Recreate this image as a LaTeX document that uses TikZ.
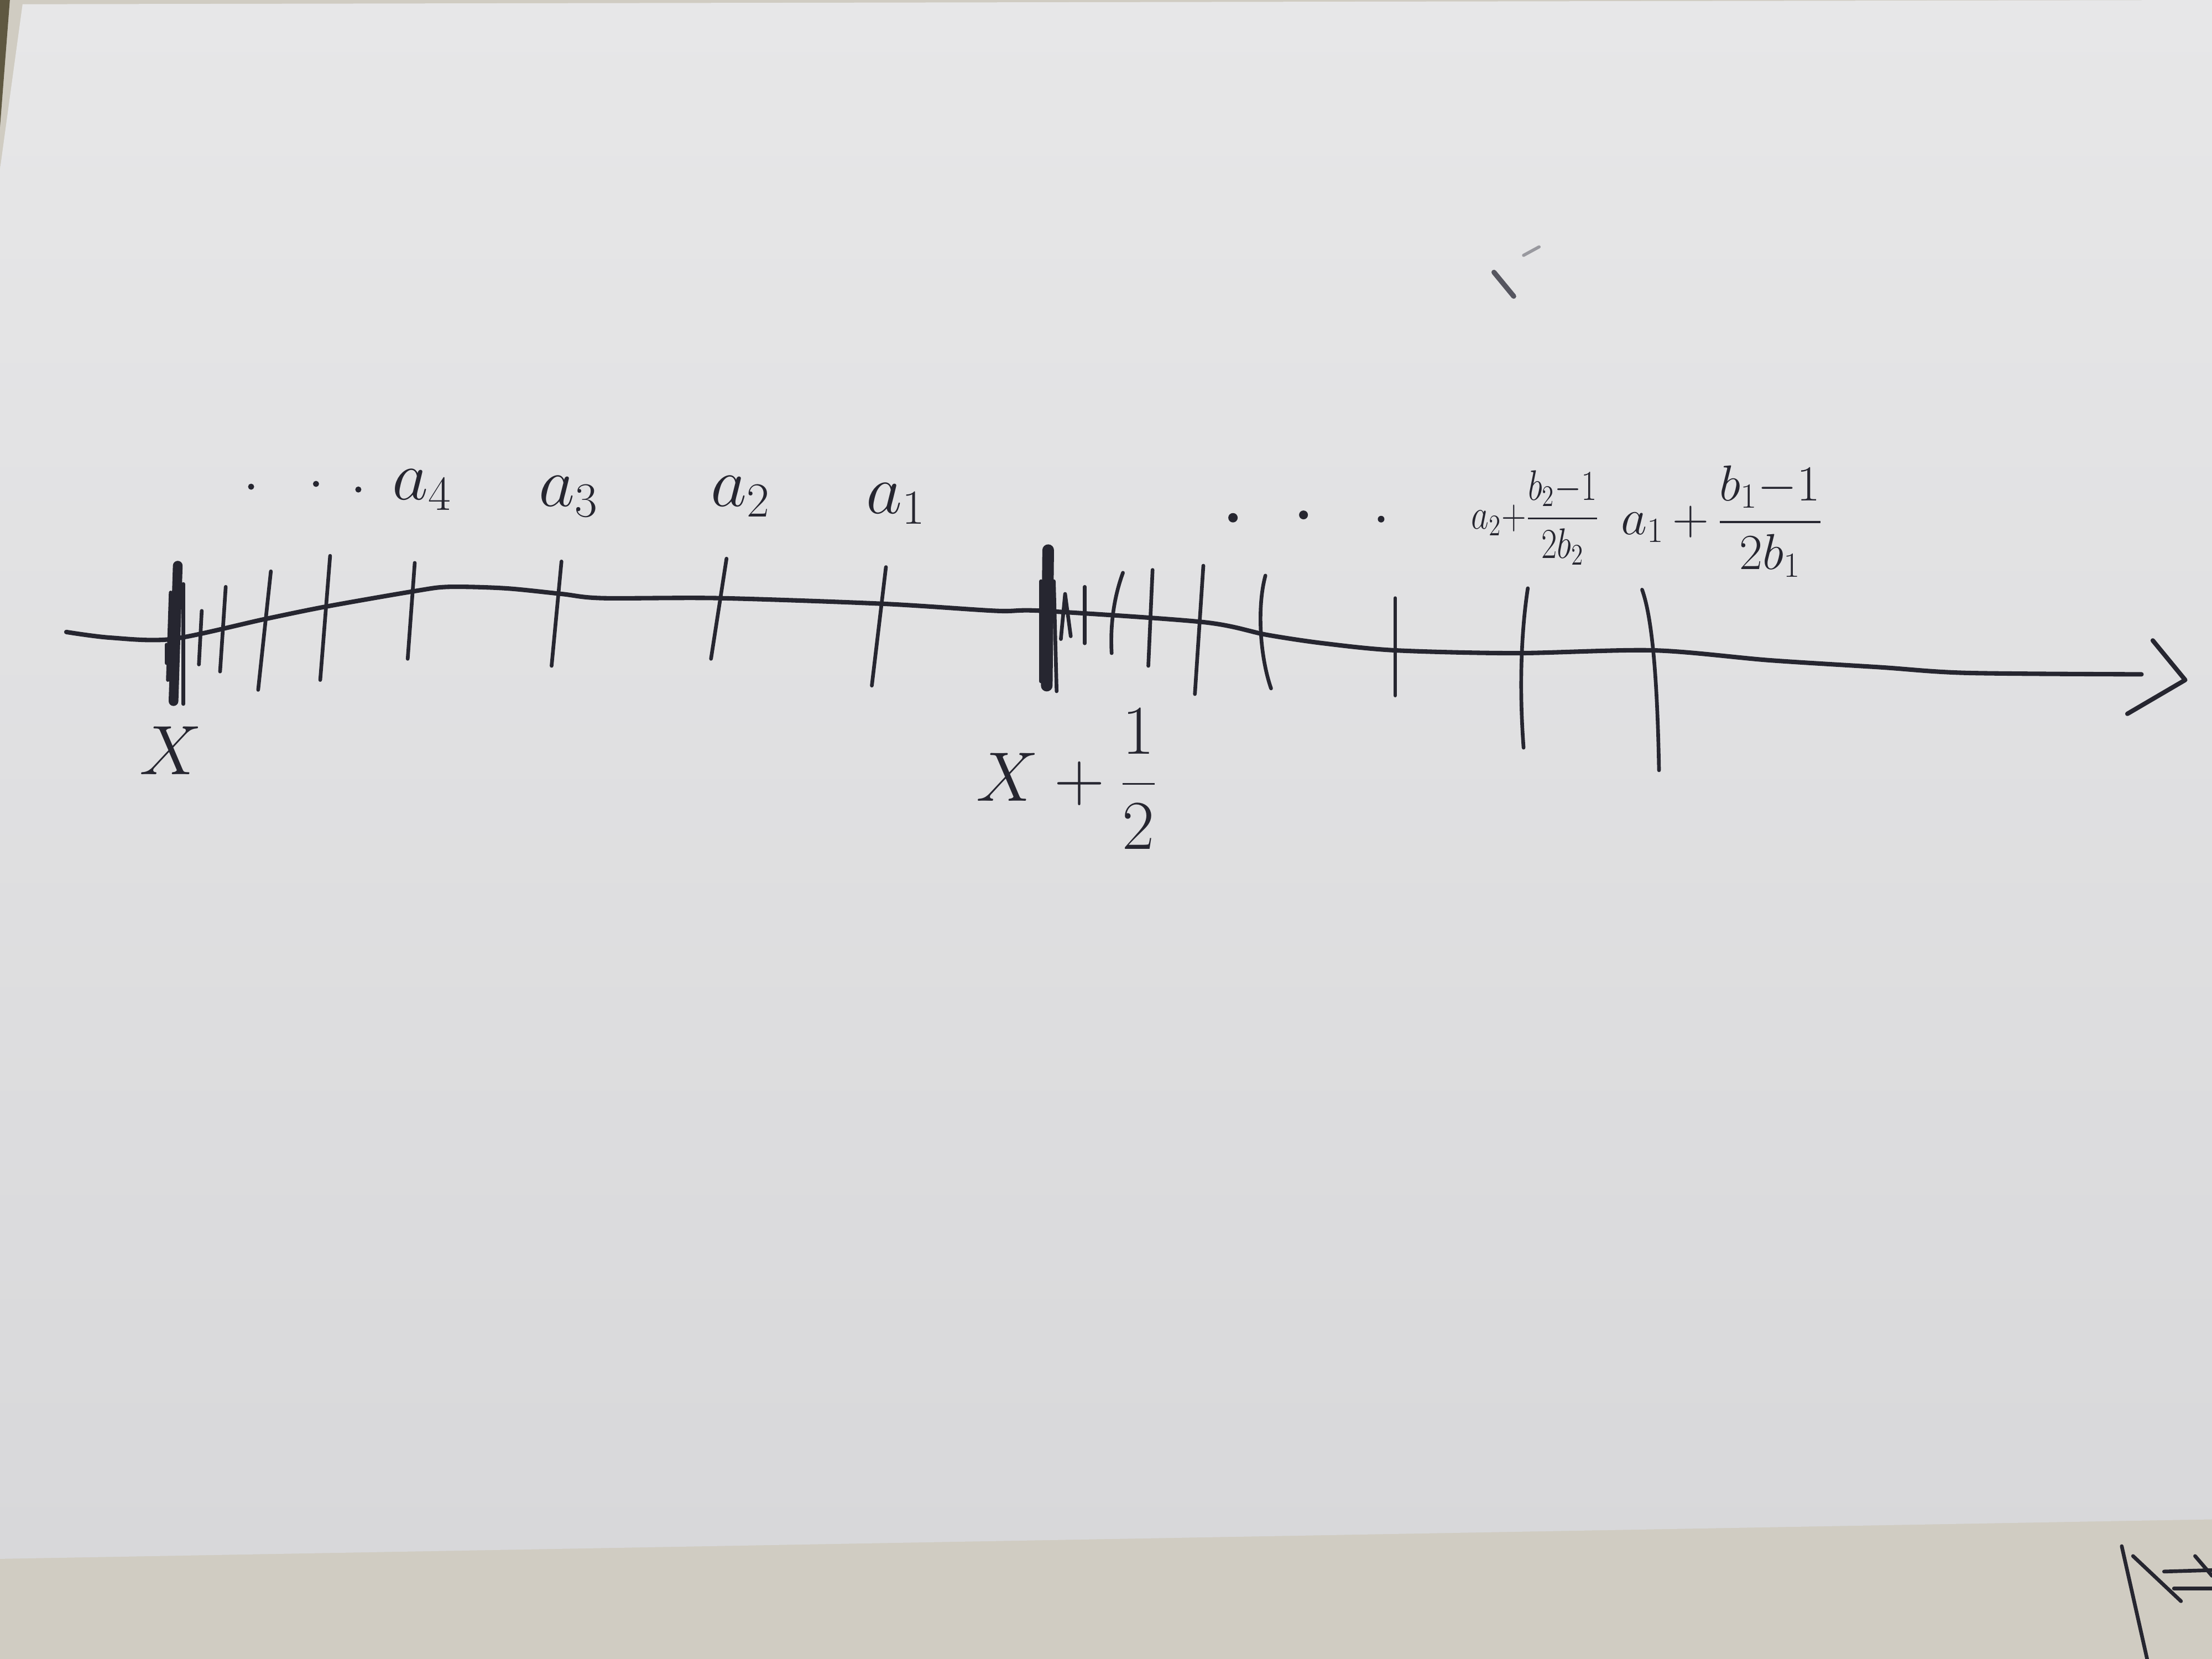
\RequirePackage{fix-cm}
\documentclass[tikz,border=0pt]{standalone}
\usepackage{amsmath}
\usepackage{graphicx}
\definecolor{ink}{RGB}{38,38,48}
\definecolor{paperTop}{RGB}{231,231,232}
\definecolor{paperBot}{RGB}{216,216,218}
\definecolor{under}{RGB}{208,204,194}
\definecolor{edge}{RGB}{95,88,65}
\definecolor{dirt}{RGB}{85,85,95}
\begin{document}
\begin{tikzpicture}[x=0.2551mm,y=-0.2551mm,
  pen/.style={draw=ink,line width=1.9pt,line cap=round,line join=round},
  axisline/.style={pen,line width=2.3pt},
  lbl/.style={text=ink,inner sep=0pt,outer sep=0pt},
  big/.style={lbl,font=\fontsize{36}{40}\selectfont},
  dot/.style={fill=ink}]
\useasboundingbox (0,0) rectangle (1568,1176);
% paper and background
\fill[under] (0,0) rectangle (1568,1176);
\shade[top color=paperTop,bottom color=paperBot] (16,3) -- (1568,0) -- (1568,1077) -- (0,1105) -- (0,120) -- cycle;
\fill[edge] (0,0) -- (7,0) -- (0,90) -- cycle;
% dirt marks
\draw[dirt,line width=2.6pt,line cap=round] (1059,193) -- (1073,210);
\draw[dirt!60,line width=1.6pt,line cap=round] (1080,181) -- (1091,175);
% axis
\draw[axisline] plot[smooth] coordinates {(47,448) (78,452) (122,453) (187,439) (231,430) (294,419) (318,416) (358,417) (398,421) (427,424) (510,424) (626,428) (706,433) (739,433) (853,441) (898,450) (938,456) (989,461) (1074,463) (1172,461) (1254,468) (1333,473) (1394,477) (1518,478)};
\coordinate (tipU) at (1526,454);
\coordinate (tip) at (1549,482);
\coordinate (tipL) at (1508,506);
\draw[axisline] (tipU) -- (tip) -- (tipL);
% cluster at X
\draw[pen,line width=5pt] (126,401) -- (123,497);
\draw[pen] (130,414) -- (130,499);
\draw[pen] (121,420) -- (119,482);
\draw[pen] (118,457) -- (118,470);
% ticks towards X
\draw[pen] (143,433) -- (141,471);
\draw[pen] (160,416) -- (156,476);
\draw[pen] (192,405) -- (183,489);
\draw[pen] (234,394) -- (227,482);
\draw[pen] (294,399) -- (289,467);
\draw[pen] (398,398) -- (391,472);
\draw[pen] (515,396) -- (504,467);
\draw[pen] (628,402) -- (618,486);
% cluster at X+1/2
\draw[pen,line width=6pt] (743,390) -- (742,486);
\draw[pen] (738,412) -- (738,483);
\draw[pen] (747,412) -- (749,490);
\draw[pen] (752,453) -- (755,421) -- (759,451);
% ticks towards X+1/2
\draw[pen] (769,416) -- (769,456);
\draw[pen] (796,406) .. controls (789,425) and (787,445) .. (788,463);
\draw[pen] (817,404) -- (814,472);
\draw[pen] (853,401) -- (847,492);
\draw[pen] (897,408) .. controls (891,430) and (893,465) .. (901,488);
\draw[pen] (989,424) -- (989,493);
\draw[pen] (1083,417) .. controls (1078,450) and (1077,490) .. (1080,530);
\draw[pen] (1164,418) .. controls (1172,440) and (1175,490) .. (1176,546);
% dots
\fill[dot] (178,345) circle[radius=0.55mm];
\fill[dot] (224,343) circle[radius=0.55mm];
\fill[dot] (254,347) circle[radius=0.55mm];
\fill[dot] (874,367) circle[radius=0.85mm];
\fill[dot] (924,365) circle[radius=0.8mm];
\fill[dot] (979,368) circle[radius=0.6mm];
% labels
\node[big,anchor=base west] (la4) at (278,354) {$a_4$};
\node[big,anchor=base west] (la3) at (382,359) {$a_3$};
\node[big,anchor=base west] (la2) at (504,359) {$a_2$};
\node[big,anchor=base west] (la1) at (614,364) {$a_1$};
\node[lbl,font=\fontsize{22}{26}\selectfont,anchor=base west] (lb2) at (1043,375) {\scalebox{0.8}[1]{$a_2{+}\dfrac{b_2{-}1}{2b_2}$}};
\node[lbl,font=\fontsize{26}{30}\selectfont,anchor=base west] (lb1) at (1149,379) {$a_1\,{+}\,\dfrac{b_1{-}1}{2b_1}$};
\node[big] (lx) at (121,532) {$X$};
\node[big,anchor=base west] (lxh) at (692,568) {$X+\dfrac{1}{2}$};
% marks on the sheet below
\draw[pen] (1504,1096) -- (1522,1176);
\draw[pen] (1512,1103) -- (1546,1135);
\draw[pen] (1534,1114) -- (1568,1113);
\draw[pen] (1541,1126) -- (1568,1126);
\draw[pen] (1556,1103) -- (1568,1117);
\end{tikzpicture}
\end{document}
